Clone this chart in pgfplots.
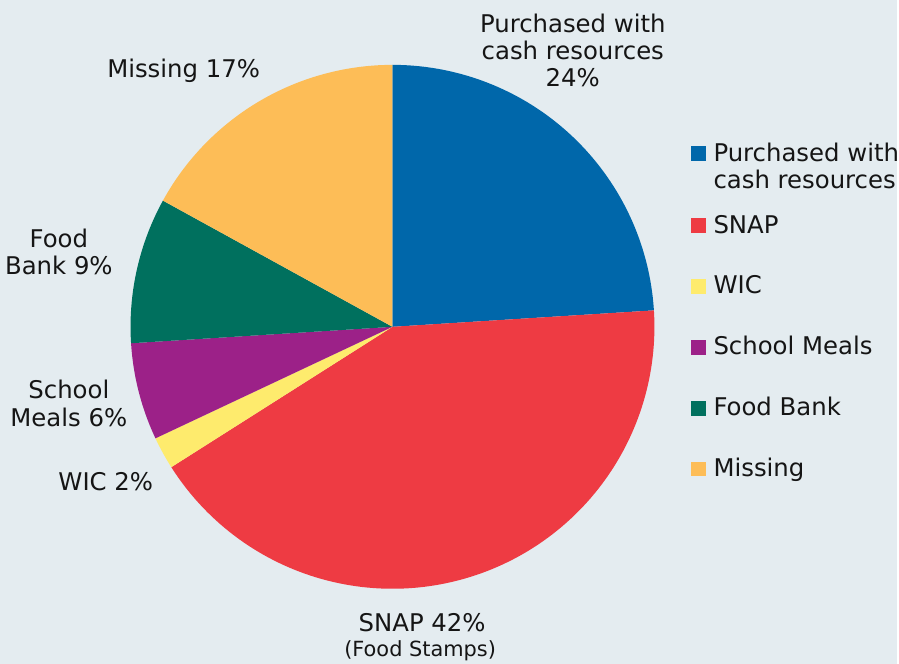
\documentclass[border=0pt]{standalone}
\usepackage{pgfplots}
\pgfplotsset{compat=1.18}
\usepackage{fontspec}
\setmainfont{DejaVu Sans}
\definecolor{bgcol}{HTML}{E4ECF0}
\definecolor{cblue}{HTML}{0067AA}
\definecolor{cred}{HTML}{EE3B43}
\definecolor{cyellow}{HTML}{FEEB6D}
\definecolor{cpurple}{HTML}{9C2188}
\definecolor{cgreen}{HTML}{00705E}
\definecolor{corange}{HTML}{FDBD57}
\definecolor{txt}{HTML}{151515}
% shares in percent
\def\vA{24}\def\vB{42}\def\vC{2}\def\vD{6}\def\vE{9}\def\vF{17}
\pgfmathsetmacro\aA{90}
\pgfmathsetmacro\aB{\aA-3.6*\vA}
\pgfmathsetmacro\aC{\aB-3.6*\vB}
\pgfmathsetmacro\aD{\aC-3.6*\vC}
\pgfmathsetmacro\aE{\aD-3.6*\vD}
\pgfmathsetmacro\aF{\aE-3.6*\vE}
\pgfmathsetmacro\aG{\aF-3.6*\vF}
\def\cx{393.3}\def\cy{337.5}\def\R{262.5}
\begin{document}
\begin{tikzpicture}[font=\fontsize{24.5}{27.5}\selectfont, text=txt]
\begin{axis}[
  width=899bp, height=665bp, scale only axis,
  xmin=0, xmax=899, ymin=0, ymax=665,
  hide axis, clip=false,
  legend style={at={(axis cs:692,521)}, anchor=north west, draw=none, fill=none,
    inner sep=0pt, outer sep=0pt, row sep=38.5bp, column sep=8bp,
    font=\fontsize{24.5}{28}\selectfont,
    nodes={inner sep=0pt, outer sep=0pt, text height=17.5bp, text depth=5bp},
    cells={anchor=base west}},
  legend image code/.code={\fill[#1] (0bp,0bp) rectangle (15bp,15bp);},
]
\fill[bgcol] (rel axis cs:0,0) rectangle (rel axis cs:1,1);
\addplot[fill=cblue, draw=none, domain=\aB:\aA, samples=90] ({\cx+\R*cos(x)},{\cy+\R*sin(x)}) -- (axis cs:\cx,\cy) -- cycle;
\addlegendentry[text depth=16bp]{\begin{tabular}[t]{@{}l@{}}Purchased with\\cash resources\end{tabular}}
\addplot[fill=cred, draw=none, domain=\aC:\aB, samples=120] ({\cx+\R*cos(x)},{\cy+\R*sin(x)}) -- (axis cs:\cx,\cy) -- cycle;
\addlegendentry{SNAP}
\addplot[fill=cyellow, draw=none, domain=\aD:\aC, samples=20] ({\cx+\R*cos(x)},{\cy+\R*sin(x)}) -- (axis cs:\cx,\cy) -- cycle;
\addlegendentry{WIC}
\addplot[fill=cpurple, draw=none, domain=\aE:\aD, samples=30] ({\cx+\R*cos(x)},{\cy+\R*sin(x)}) -- (axis cs:\cx,\cy) -- cycle;
\addlegendentry{School Meals}
\addplot[fill=cgreen, draw=none, domain=\aF:\aE, samples=40] ({\cx+\R*cos(x)},{\cy+\R*sin(x)}) -- (axis cs:\cx,\cy) -- cycle;
\addlegendentry{Food Bank}
\addplot[fill=corange, draw=none, domain=\aG:\aF, samples=60] ({\cx+\R*cos(x)},{\cy+\R*sin(x)}) -- (axis cs:\cx,\cy) -- cycle;
\addlegendentry{Missing}
% slice labels (base = last line)
\node[anchor=base, align=center, inner sep=0pt] at (axis cs:574,578) {Purchased with\\cash resources\\24\%};
\node[anchor=base, inner sep=0pt] at (axis cs:184,587.7) {Missing 17\%};
\node[anchor=base, align=center, inner sep=0pt] at (axis cs:59,390) {Food\\Bank 9\%};
\node[anchor=base, align=center, inner sep=0pt] at (axis cs:69,238) {School\\Meals 6\%};
\node[anchor=base, inner sep=0pt] at (axis cs:106,173) {WIC 2\%};
\node[anchor=base, inner sep=0pt] at (axis cs:423,32) {SNAP 42\%};
\node[anchor=base, inner sep=0pt, font=\fontsize{21}{24}\selectfont] at (axis cs:421,7) {(Food Stamps)};
\end{axis}
\end{tikzpicture}
\end{document}
